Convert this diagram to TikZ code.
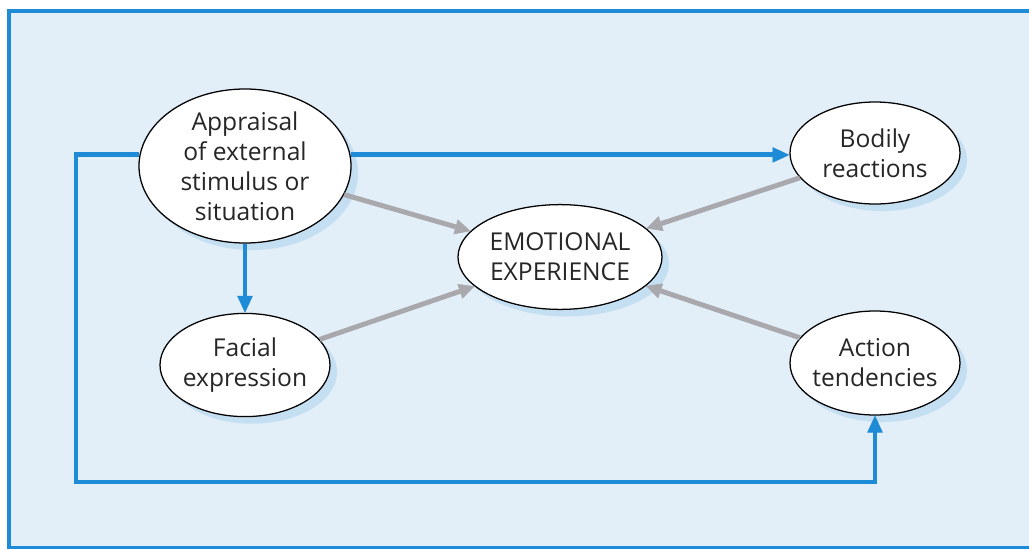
\documentclass[tikz,border=0pt]{standalone}
\usepackage{fontspec}
\setmainfont{Open Sans}
\usetikzlibrary{shapes.geometric,positioning,arrows.meta,shadows}
\definecolor{panel}{HTML}{E2EEF8}
\definecolor{flowblue}{HTML}{1E8BD6}
\definecolor{linkgray}{HTML}{A9A9AD}
\definecolor{shade}{HTML}{C4DEF2}

\begin{document}
\begin{tikzpicture}[on grid,
    mood/.style={ellipse, draw=black, line width=0.9pt, fill=white, inner sep=-3pt,
      align=center, text=black!85, font=\fontsize{17.5}{21.3}\selectfont,
      drop shadow={shadow xshift=5pt, shadow yshift=-5pt, fill=shade, opacity=1}},
    flow/.style={flowblue, line width=3.5pt, -{Triangle[length=12pt,width=11pt,line width=0.4pt]}},
    link/.style={linkgray, line width=3.5pt, -{Triangle[length=11pt,width=11pt,line width=0.4pt]}}]
  \useasboundingbox (0,0) rectangle (25.725,13.725);
  \fill[white] (0,0) rectangle (25.725,13.725);
  \fill[panel] (0.225,0.04) rectangle (25.725,13.45);
  \draw[flowblue, line width=2.5pt] (25.725,13.45) -- (0.225,13.45) -- (0.225,0.04) -- (25.725,0.04);

  \node[mood, minimum width=5.3cm, minimum height=3.85cm] (appr) at (6.125,9.575)
    {Appraisal\\of external\\stimulus or\\situation};
  \node[mood, minimum width=4.25cm, minimum height=2.58cm] (fac) [below=4.975cm of appr]
    {Facial\\expression};
  \node[mood, minimum width=5.1cm, minimum height=2.62cm] (emo) at (14,7.3)
    {EMOTIONAL\\EXPERIENCE};
  \node[mood, minimum width=4.25cm, minimum height=2.55cm] (bod) at (21.875,9.9)
    {Bodily\\reactions};
  \node[mood, minimum width=4.25cm, minimum height=2.6cm] (act) [below=5.25cm of bod]
    {Action\\tendencies};
  \coordinate (bend) at (1.9,1.675);

  \draw[flow]
    (appr.6) -- (appr.6 -| bod.west);
  \draw[flow]
    (appr.south) -- (fac.north);
  \draw[flow]
    (appr.174) -| (bend) -| (act.south);
  \path[link]
    (appr) edge (emo)
    (fac) edge (emo)
    (bod) edge (emo)
    (act) edge (emo);
\end{tikzpicture}
\end{document}
